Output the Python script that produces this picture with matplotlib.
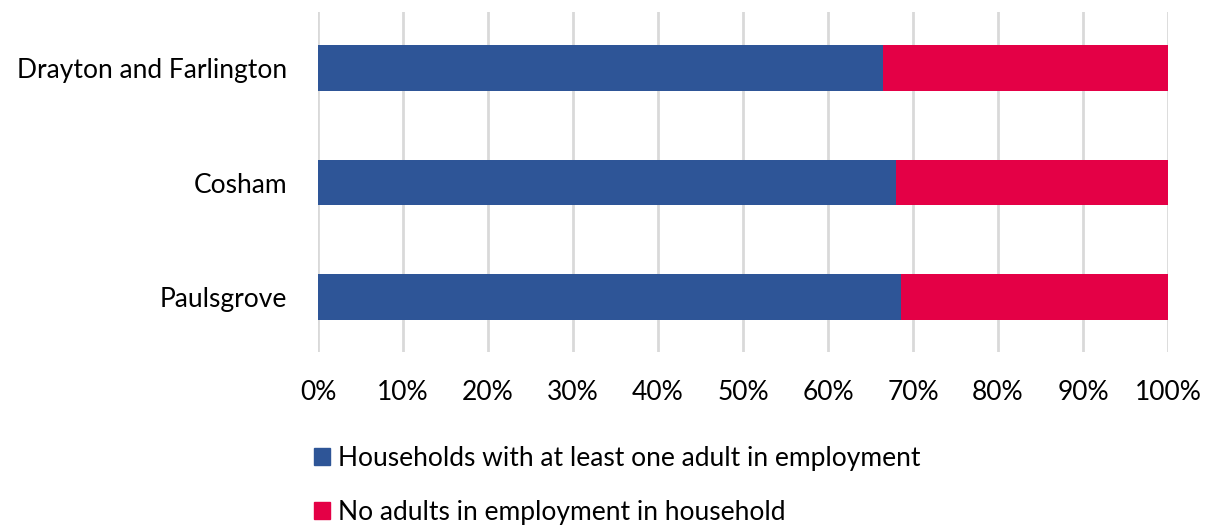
import matplotlib.pyplot as plt
from matplotlib.patches import Patch

areas = ['Paulsgrove', 'Cosham', 'Drayton and Farlington']
employed = [68.6, 68.0, 66.5]
no_adults = [100 - v for v in employed]
labels = ['Households with at least one adult in employment',
          'No adults in employment in household']
colors = ['#2E5597', '#E40046']
xticks = list(range(0, 101, 10))

plt.rcParams['font.family'] = ['Lato', 'DejaVu Sans']

fig = plt.figure(figsize=(12.05, 5.29), dpi=100)
ax = fig.add_axes([318 / 1205, 1 - 352 / 529, 850 / 1205, 340 / 529])

ypos = range(len(areas))
ax.barh(ypos, employed, height=0.4, color=colors[0], zorder=3)
ax.barh(ypos, no_adults, left=employed, height=0.4, color=colors[1], zorder=3)

ax.set_xlim(0, 100)
ax.set_ylim(-0.48, 2.49)
ax.set_xticks(xticks)
ax.set_xticklabels([f'{t}%' for t in xticks], fontsize=19)
ax.set_yticks(list(ypos))
ax.set_yticklabels(areas, fontsize=19)
ax.tick_params(length=0, pad=20, axis='x')
ax.tick_params(length=0, pad=22, axis='y')
ax.grid(axis='x', color='#d9d9d9', linewidth=2, zorder=0)
for s in ax.spines.values():
    s.set_visible(False)

handles = [Patch(color=c, label=l) for c, l in zip(colors, labels)]
fig.legend(handles=handles, loc='upper left', bbox_to_anchor=(290 / 1205, 1 - 422 / 529),
           frameon=False, fontsize=19, handlelength=0.6, handleheight=0.6,
           handletextpad=0.3, labelspacing=1.1)

fig.savefig('out.png', dpi=100)
